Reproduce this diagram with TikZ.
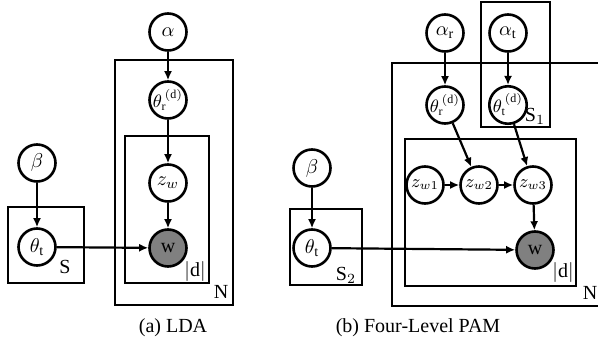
\documentclass[tikz,border=0pt]{standalone}
\usepackage{fontspec}
\setmainfont{Liberation Serif}
\usepackage{tikz}
\usetikzlibrary{arrows.meta}
\definecolor{observedgray}{RGB}{128,128,128}
\tikzset{
  latent/.style={circle, draw, line width=1.3pt, minimum size=18.5pt, inner sep=0pt, fill=white},
  observed/.style={latent, fill=observedgray},
  plate/.style={draw, line width=1.2pt},
  edge/.style={-{Latex[length=4.5pt,width=4pt]}, line width=1.1pt},
}

\begin{document}
\begin{tikzpicture}[x=0.5pt, y=-0.5pt]
  \useasboundingbox (0,0) rectangle (598,347);

  % Plates (a) LDA
  \draw[plate] (115,60) rectangle (233,305);
  \draw[plate] (125,136) rectangle (209,283);
  \draw[plate] (8,207) rectangle (84,283);
  \node (labS) at (65,267) {S};
  \node (labda) at (195,271) {$|$d$|$};
  \node (labNa) at (221,292) {N};

  % Nodes (a) LDA
  \node[latent] (alpha) at (168,32) {$\alpha$};
  \node[latent, font=\small] (thetara) at (168,100) {$\theta_{\mathrm{r}}^{\,(\mathrm{d})}$};
  \node[latent] (zw) at (168,183) {$z_w$};
  \node[observed] (wa) at (168,248) {w};
  \node[latent] (betaa) at (37,163) {$\beta$};
  \node[latent] (thetata) at (37,247) {$\theta_{\mathrm{t}}$};

  % Edges (a) LDA
  \draw[edge] (alpha) -- (thetara);
  \draw[edge] (thetara) -- (zw);
  \draw[edge] (zw) -- (wa);
  \draw[edge] (betaa) -- (thetata);
  \draw[edge] (thetata) -- (wa);

  \node (capa) at (173,328) {(a) LDA};

  % Plates (b) Four-Level PAM
  \draw[plate] (610,63) -- (392,63) -- (392,306) -- (610,306);
  \draw[plate] (405,139) rectangle (576,286);
  \draw[plate] (481,2) rectangle (550,127);
  \draw[plate] (290,209) rectangle (362,285);
  \node (labSone) at (535,116) {S$_1$};
  \node (labStwo) at (346,275) {S$_2$};
  \node (labdb) at (563,272) {$|$d$|$};
  \node (labNb) at (590,293) {N};

  % Nodes (b) Four-Level PAM
  \node[latent] (alphar) at (445,33) {$\alpha_{\mathrm{r}}$};
  \node[latent] (alphat) at (508,33) {$\alpha_{\mathrm{t}}$};
  \node[latent, font=\small] (thetarb) at (445,105) {$\theta_{\mathrm{r}}^{\,(\mathrm{d})}$};
  \node[latent, font=\small] (thetatd) at (508,105) {$\theta_{\mathrm{t}}^{\,(\mathrm{d})}$};
  \node[latent, font=\small] (zwone) at (425,185) {$z_{w1}$};
  \node[latent, font=\small] (zwtwo) at (479,185) {$z_{w2}$};
  \node[latent, font=\small] (zwthree) at (533,185) {$z_{w3}$};
  \node[observed] (wb) at (535,250) {w};
  \node[latent] (betab) at (312,168) {$\beta$};
  \node[latent] (thetatb) at (312,248) {$\theta_{\mathrm{t}}$};

  % Edges (b) Four-Level PAM
  \draw[edge] (alphar) -- (thetarb);
  \draw[edge] (alphat) -- (thetatd);
  \draw[edge] (thetarb) -- (zwtwo);
  \draw[edge] (thetatd) -- (zwthree);
  \draw[edge] (zwone) -- (zwtwo);
  \draw[edge] (zwtwo) -- (zwthree);
  \draw[edge] (zwthree) -- (wb);
  \draw[edge] (betab) -- (thetatb);
  \draw[edge] (thetatb) -- (wb);

  \node (capb) at (418,328) {(b) Four-Level PAM};
\end{tikzpicture}
\end{document}
